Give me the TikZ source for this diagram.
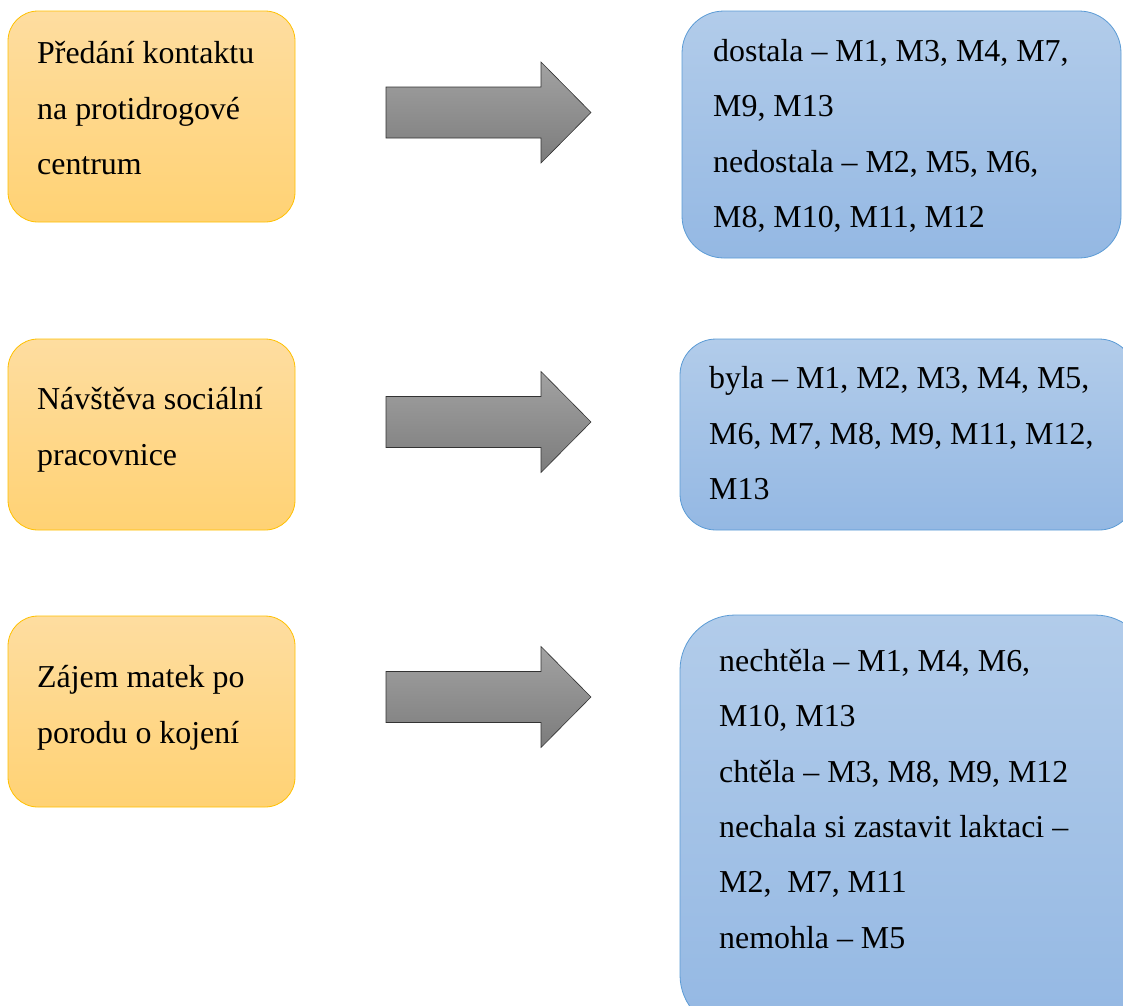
\documentclass[tikz,border=0pt]{standalone}
\usepackage{fontspec}
\setmainfont{Liberation Serif}
\definecolor{orangetop}{HTML}{FEDDA0}
\definecolor{orangebot}{HTML}{FFD274}
\definecolor{orangeline}{HTML}{FFC000}
\definecolor{bluetop}{HTML}{B2CCEA}
\definecolor{bluebot}{HTML}{94B8E3}
\definecolor{blueline}{HTML}{5B9BD5}
\definecolor{graytop}{HTML}{A2A2A2}
\definecolor{graybot}{HTML}{7C7C7C}
\begin{document}
\begin{tikzpicture}[x=1pt,y=-1pt,
  topicbox/.style={draw=orangeline, line width=0.8pt, top color=orangetop, bottom color=orangebot},
  answerbox/.style={draw=blueline, line width=0.8pt, top color=bluetop, bottom color=bluebot},
  blockarrow/.style={draw=black!80, line width=0.6pt, top color=graytop, bottom color=graybot, line join=miter},
  % multi-line text, placed by the baseline of its last line
  txt/.style={anchor=base west, inner sep=0pt, align=left, font=\fontsize{31.9}{55.3}\selectfont}]
\useasboundingbox (0,0) rectangle (1123,1005);

% topic boxes (left column)
\draw[topicbox, rounded corners=30pt] (8,11) rectangle (295,222);
\draw[topicbox, rounded corners=30pt] (8,339) rectangle (295,530);
\draw[topicbox, rounded corners=30pt] (8,616) rectangle (295,807);

% answer boxes (right column, running off the right edge)
\draw[answerbox, rounded corners=42pt] (682,11) rectangle (1121,258);
\draw[answerbox, rounded corners=36pt] (680,339) rectangle (1135,530);
\draw[answerbox, rounded corners=55pt] (680,615) rectangle (1150,1030);

% block arrows
\foreach \c/\nm in {112.5/a1, 422/a2, 697/a3} {
  \draw[blockarrow] (386,\c-25.5) -- (541,\c-25.5) -- (541,\c-50.5)
    -- (591,\c) -- (541,\c+50.5) -- (541,\c+25.5) -- (386,\c+25.5) -- cycle;
}

% texts
\node[txt] (t1) at (37,174.5) {Předání kontaktu\\na protidrogové\\centrum};
\node[txt] (t2) at (37,465) {Návštěva sociální\\pracovnice};
\node[txt] (t3) at (37,743) {Zájem matek po\\porodu o kojení};

\node[txt] (r1) at (713,227.5) {dostala – M1, M3, M4, M7,\\M9, M13\\nedostala – M2, M5, M6,\\M8, M10, M11, M12};
\node[txt] (r2) at (709,499.5) {byla – M1, M2, M3, M4, M5,\\M6, M7, M8, M9, M11, M12,\\M13};
\node[txt] (r3) at (719,948) {nechtěla – M1, M4, M6,\\M10, M13\\chtěla – M3, M8, M9, M12\\nechala si zastavit laktaci –\\M2,\ \ M7, M11\\nemohla – M5};
\end{tikzpicture}
\end{document}
